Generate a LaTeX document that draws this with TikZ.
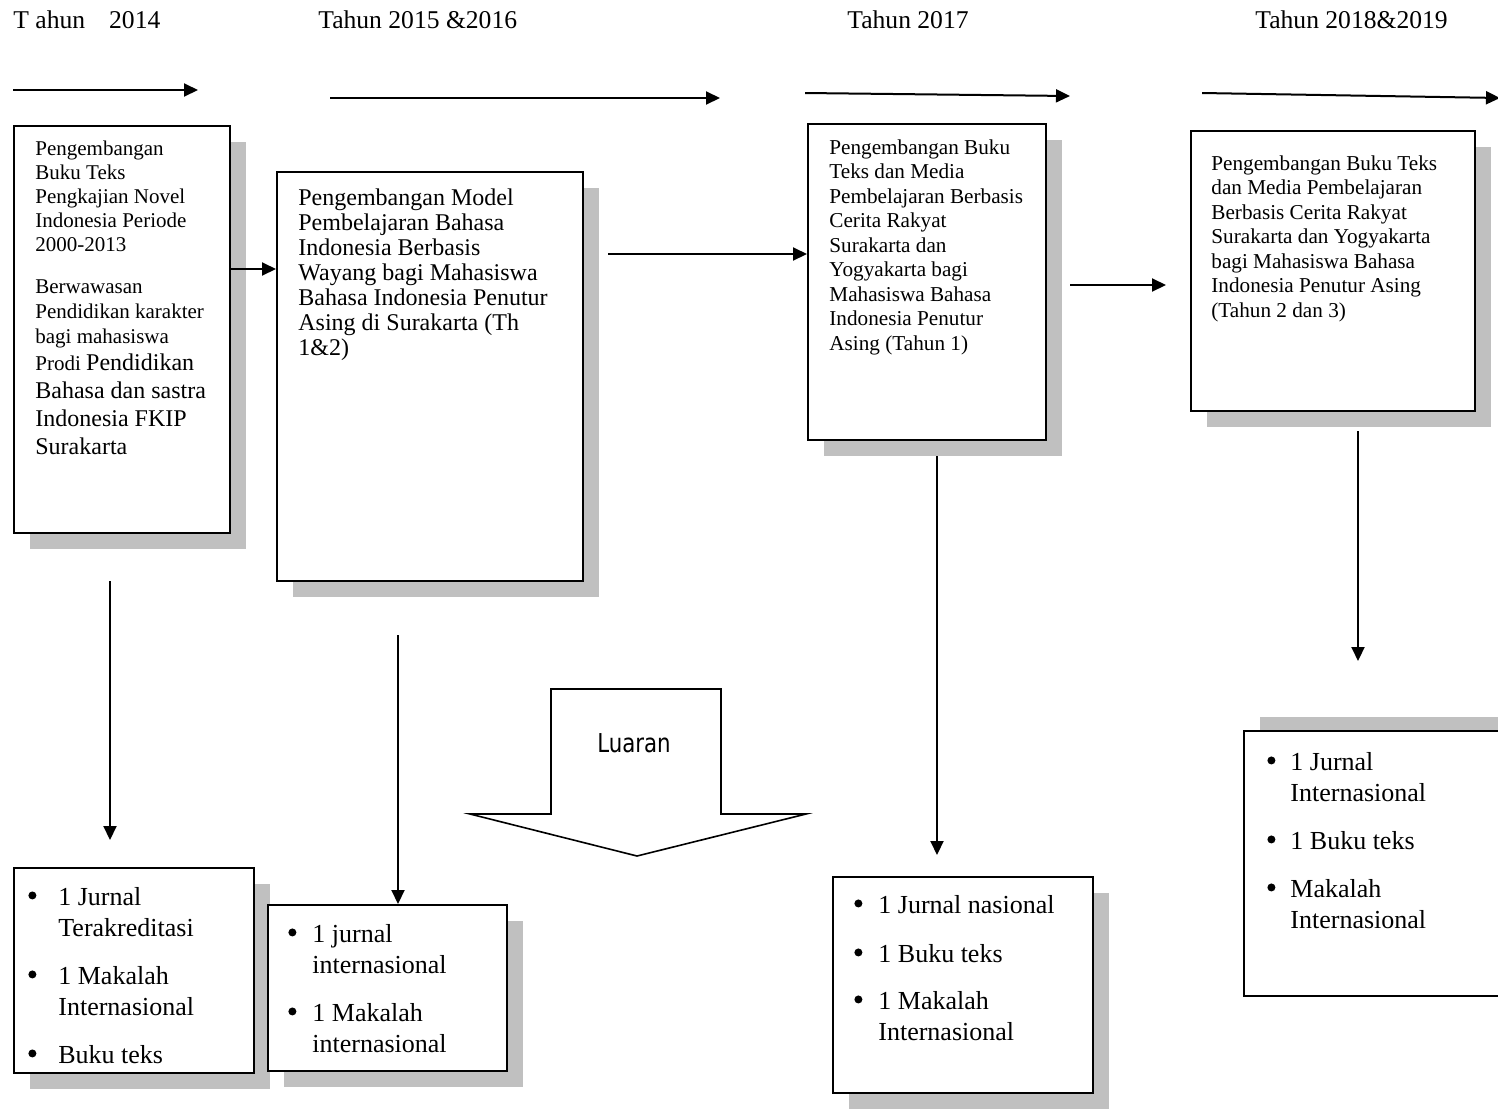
\documentclass[tikz,border=0pt]{standalone}
\usepackage{fontspec}
\setmainfont{Liberation Serif}
\newfontfamily\luaranfont{DejaVu Sans}
\usetikzlibrary{arrows.meta,fit,shadows}
\definecolor{shadowgrey}{HTML}{C0C0C0}

\tikzset{
  frame/.style={draw, line width=1pt, fill=white, inner sep=0pt},
  panel/.style={frame,
    drop shadow={shadow xshift=8pt, shadow yshift=-8pt, fill=shadowgrey, opacity=1}},
  raisedpanel/.style={frame,
    drop shadow={shadow xshift=8pt, shadow yshift=7pt, fill=shadowgrey, opacity=1}},
  link/.style={line width=1pt, -{Triangle[length=7pt,width=6.5pt]}},
  body/.style={anchor=north west, inner sep=0pt, align=left},
  year/.style={anchor=base west, inner sep=0pt, font=\fontsize{12.8}{14}\selectfont},
  small/.style={font=\fontsize{10.6}{12.25}\selectfont},
  bullets/.style={body, font=\fontsize{13}{15.5}\selectfont},
}
% list mark: a solid round dot set in a box of the given width
\newcommand{\itm}[1]{\makebox[#1][l]{\raisebox{3pt}{\tikz\fill (0,0) circle (2pt);}}}

\begin{document}
\begin{tikzpicture}[x=0.5pt,y=-0.5pt]
\useasboundingbox (0,0) rectangle (1498,1109);

% year headings
\node[year] (y1) at (13,28) {T ahun\hspace{12pt}2014};
\node[year] (y2) at (318,28) {Tahun 2015 \&2016};
\node[year] (y3) at (847,28) {Tahun 2017};
\node[year] (y4) at (1255,28) {Tahun 2018\&2019};

% timeline arrows
\coordinate (a1s) at (13,90);   \coordinate (a1e) at (198,90);
\coordinate (a2s) at (330,98);  \coordinate (a2e) at (720,98);
\coordinate (a3s) at (805,93);  \coordinate (a3e) at (1070,96);
\coordinate (a4s) at (1202,93); \coordinate (a4e) at (1500,98);
\draw[link] (a1s) -- (a1e);
\draw[link] (a2s) -- (a2e);
\draw[link] (a3s) -- (a3e);
\draw[link] (a4s) -- (a4e);

% research panels
\node[panel, fit={(14,126) (230,533)}] (b1) {};
\node[panel, fit={(277,172) (583,581)}] (b2) {};
\node[panel, fit={(808,124) (1046,440)}] (b3) {};
\node[panel, fit={(1191,131) (1475,411)}] (b4) {};

% output panels
\node[panel, fit={(14,868) (254,1073)}] (b5) {};
\node[panel, fit={(268,905) (507,1071)}] (b6) {};
\node[panel, fit={(833,877) (1093,1093)}] (b7) {};
\node[raisedpanel, fit={(1244,731) (1540,996)}] (b8) {};

% panel texts
\node[body, font=\fontsize{10.5}{12}\selectfont] (t1a) at (35,141)
  {Pengembangan\\Buku Teks\\Pengkajian Novel\\Indonesia Periode\\2000-2013};
\node[body, font=\fontsize{10.5}{12.5}\selectfont] (t1b) at (35,279)
  {Berwawasan\\Pendidikan karakter\\bagi mahasiswa};
\node[body, font=\fontsize{12}{14}\selectfont] (t1c) at (35,353)
  {{\fontsize{10.5}{14}\selectfont Prodi }Pendidikan\\Bahasa dan sastra\\Indonesia FKIP\\Surakarta};

\node[body, font=\fontsize{12}{12.5}\selectfont] (t2) at (298,188)
  {Pengembangan Model\\Pembelajaran Bahasa\\Indonesia Berbasis\\Wayang bagi Mahasiswa\\Bahasa Indonesia Penutur\\Asing di Surakarta (Th\\1\&2)};

\node[body, small] (t3) at (829,139)
  {Pengembangan Buku\\Teks dan Media\\Pembelajaran Berbasis\\Cerita Rakyat\\Surakarta dan\\Yogyakarta bagi\\Mahasiswa Bahasa\\Indonesia Penutur\\Asing (Tahun 1)};

\node[body, small] (t4) at (1211,155)
  {Pengembangan Buku Teks\\dan Media Pembelajaran\\Berbasis Cerita Rakyat\\Surakarta dan Yogyakarta\\bagi Mahasiswa Bahasa\\Indonesia Penutur Asing\\(Tahun 2 dan 3)};

% output lists
\node[bullets] (t5) at (28,887)
  {\itm{15pt}1 Jurnal\\\hspace*{15pt}Terakreditasi\\[8.5pt]
   \itm{15pt}1 Makalah\\\hspace*{15pt}Internasional\\[8.5pt]
   \itm{15pt}Buku teks};
\node[bullets] (t6) at (288,924)
  {\itm{12pt}1 jurnal\\\hspace*{12pt}internasional\\[8.5pt]
   \itm{12pt}1 Makalah\\\hspace*{12pt}internasional};
\node[bullets] (t7) at (854,895)
  {\itm{12pt}1 Jurnal nasional\\[9pt]
   \itm{12pt}1 Buku teks\\[8pt]
   \itm{12pt}1 Makalah\\\hspace*{12pt}Internasional};
\node[bullets] (t8) at (1267,752)
  {\itm{11.5pt}1 Jurnal\\\hspace*{11.5pt}Internasional\\[8.5pt]
   \itm{11.5pt}1 Buku teks\\[8.5pt]
   \itm{11.5pt}Makalah\\\hspace*{11.5pt}Internasional};

% links between panels
\draw[link] (b1.east |- 0,269) -- (b2.west |- 0,269);
\coordinate (h2s) at (608,254);
\draw[link] (h2s) -- (b3.west |- h2s);
\coordinate (h3s) at (1070,285); \coordinate (h3e) at (1166,285);
\draw[link] (h3s) -- (h3e);

% links down to the outputs
\coordinate (v1s) at (110,581); \coordinate (v1e) at (110,840);
\draw[link] (v1s) -- (v1e);
\coordinate (v2s) at (398,635);
\draw[link] (v2s) -- (v2s |- b6.north);
\coordinate (v3s) at (937,456); \coordinate (v3e) at (937,855);
\draw[link] (v3s) -- (v3e);
\coordinate (v4s) at (1358,431); \coordinate (v4e) at (1358,661);
\draw[link] (v4s) -- (v4e);

% block arrow "Luaran"
\draw[line width=0.8pt, fill=white] (551,689) -- (721,689) -- (721,814) -- (806,814)
  -- (637,856) -- (470,814) -- (551,814) -- cycle;
\node[font=\luaranfont\fontsize{13}{15}\selectfont, inner sep=0pt, xscale=0.82] (luaran) at (634,743) {Luaran};
\end{tikzpicture}
\end{document}
